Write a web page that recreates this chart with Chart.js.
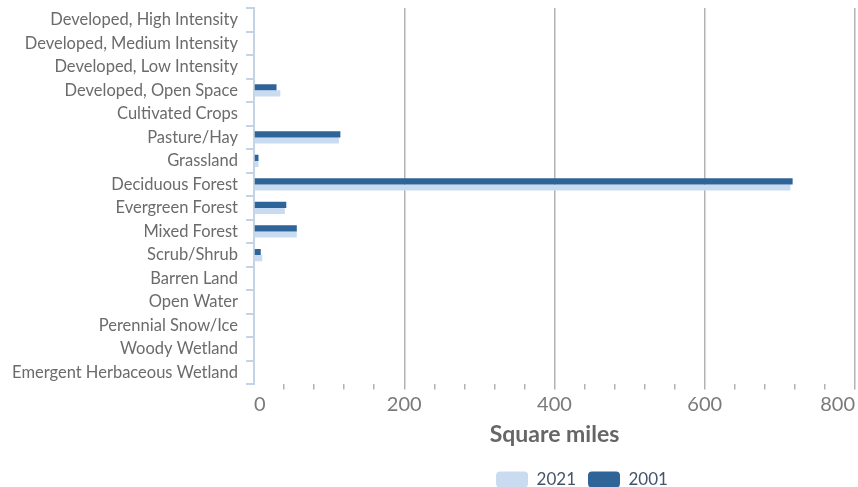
<!DOCTYPE html>
<html>
<head>
<meta charset="utf-8">
<script src="https://cdn.jsdelivr.net/npm/chart.js@4/dist/chart.umd.min.js"></script>
<style>
  html, body { margin: 0; padding: 0; background: #fff; }
  #wrap { width: 858px; height: 487px; }
</style>
</head>
<body>
<div id="wrap"><canvas id="chart"></canvas></div>
<script>
const categories = [
  "Developed, High Intensity",
  "Developed, Medium Intensity",
  "Developed, Low Intensity",
  "Developed, Open Space",
  "Cultivated Crops",
  "Pasture/Hay",
  "Grassland",
  "Deciduous Forest",
  "Evergreen Forest",
  "Mixed Forest",
  "Scrub/Shrub",
  "Barren Land",
  "Open Water",
  "Perennial Snow/Ice",
  "Woody Wetland",
  "Emergent Herbaceous Wetland"
];
const values2001 = [0, 0, 0, 30, 0, 115, 6, 717, 43, 57, 9, 0, 0, 0, 0, 0];
const values2021 = [0, 0, 0, 35, 0, 113, 6, 714, 41, 57, 11, 0, 0, 0, 0, 0];
const xTicks = [0, 200, 400, 600, 800];

// legend sits right of centre and a bit lower in the original
const shiftLegend = {
  id: "shiftLegend",
  afterLayout(chart) {
    chart.legend.left += 152;
    chart.legend.right += 152;
    chart.legend.top += 11;
    chart.legend.bottom += 11;
  }
};

new Chart(document.getElementById("chart"), {
  type: "bar",
  data: {
    labels: categories,
    datasets: [
      { label: "2001", data: values2001, backgroundColor: "#2f6498" },
      { label: "2021", data: values2021, backgroundColor: "#c9dbf1" }
    ]
  },
  options: {
    indexAxis: "y",
    responsive: true,
    maintainAspectRatio: false,
    animation: false,
    categoryPercentage: 0.52,
    barPercentage: 1,
    layout: { padding: { top: 8, right: 2, bottom: 0, left: 4 } },
    scales: {
      x: {
        min: 0,
        max: 800,
        border: { display: false },
        grid: {
          color: (c) => (c.tick && c.tick.value !== 0 && xTicks.includes(c.tick.value)) ? "#b3b3b3" : "rgba(0,0,0,0)",
          tickColor: (c) => (c.tick && c.tick.value === 0) ? "rgba(0,0,0,0)" : "#b3b3b3",
          lineWidth: 1.5,
          tickLength: 5
        },
        ticks: {
          stepSize: 40,
          autoSkip: false,
          maxRotation: 0,
          align: "inner",
          padding: 3,
          color: "#7a7a7a",
          font: { family: "Lato", size: 20 },
          callback: (v) => xTicks.includes(v) ? v : ""
        },
        title: {
          display: true,
          text: "Square miles",
          color: "#666666",
          font: { family: "Lato", size: 23, weight: "bold" },
          padding: { top: 1, bottom: 0 }
        }
      },
      y: {
        border: { color: "#c5d3e6", width: 2 },
        grid: {
          offset: true,
          drawOnChartArea: false,
          color: "#c5d3e6",
          lineWidth: 2,
          tickLength: 8
        },
        ticks: {
          autoSkip: false,
          padding: 8,
          color: "#6b6b6b",
          font: { family: "Lato", size: 16.5 }
        },
        afterFit: (s) => {
          s.width = 250;
          s.paddingTop = 0;
          s.paddingBottom = 0;
        }
      }
    },
    plugins: {
      legend: {
        position: "bottom",
        reverse: true,
        labels: {
          boxWidth: 32,
          boxHeight: 16,
          useBorderRadius: true,
          borderRadius: 4,
          padding: 12,
          color: "#44546a",
          font: { family: "Lato", size: 17 }
        }
      },
      tooltip: { enabled: false }
    }
  },
  plugins: [shiftLegend]
});
</script>
</body>
</html>
